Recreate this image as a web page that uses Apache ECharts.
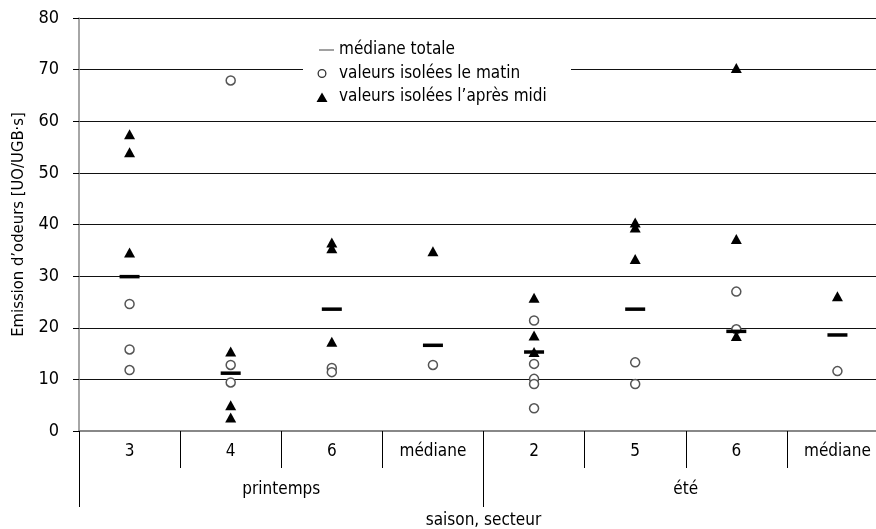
<!DOCTYPE html>
<html>
<head>
<meta charset="utf-8">
<script src="https://cdn.jsdelivr.net/npm/echarts@6/dist/echarts.min.js"></script>
<style>
html,body{margin:0;padding:0;background:#fff;}
#c{width:876px;height:529px;}
</style>
</head>
<body>
<div id="c"></div>
<script>
const sectors = ['3', '4', '6', 'médiane', '2', '5', '6', 'médiane'];
const seasons = ['printemps', 'été'];
const yTicks = [0, 10, 20, 30, 40, 50, 60, 70, 80];
const medianValues = [29.9, 11.2, 23.6, 16.6, 15.3, 23.6, 19.3, 18.6];
const morningValues = [
  [24.6, 15.8, 11.8],
  [67.9, 12.8, 9.4],
  [12.2, 11.4],
  [12.8],
  [21.4, 13.0, 10.1, 9.1, 4.4],
  [13.3, 9.1],
  [19.7, 27.0],
  [11.6]
];
const afternoonValues = [
  [57.5, 54.0, 34.6],
  [15.4, 5.0, 2.6],
  [36.5, 35.4, 17.3],
  [34.8],
  [25.8, 18.5, 15.3],
  [40.4, 39.4, 33.3],
  [70.3, 37.2, 18.4],
  [26.1]
];
const legendNames = ['médiane totale', 'valeurs isolées le matin', 'valeurs isolées l’après midi'];

const FONT = "'DejaVu Sans Condensed', 'DejaVu Sans', sans-serif";
const toPoints = arr => arr.flatMap((vals, i) => vals.map(v => [i, v]));
const corners = 'M0,0h0.01v0.01h-0.01z M19.99,11.99h0.01v0.01h-0.01z ';

const chart = echarts.init(document.getElementById('c'), null, {renderer: 'canvas'});
chart.setOption({
  animation: false,
  backgroundColor: '#fff',
  textStyle: {fontFamily: FONT, color: '#000'},
  grid: {left: 79, right: -12, top: 18, bottom: 98, containLabel: false, outerBoundsMode: 'none'},
  legend: {
    orient: 'vertical',
    left: 303,
    top: 32,
    padding: [8, 10, 8, 11],
    backgroundColor: '#fff',
    itemWidth: 20,
    itemHeight: 12,
    itemGap: 3.5,
    selectedMode: false,
    textStyle: {fontFamily: FONT, fontSize: 17, color: '#000', lineHeight: 20, width: 222},
    data: [
      {name: legendNames[0], icon: 'path://' + corners + 'M5,5.4h15v1.2h-15z', itemStyle: {color: '#444', borderWidth: 0}},
      {name: legendNames[1], icon: 'path://' + corners + 'M3.5,6a4.5,4.5 0 1,1 9,0a4.5,4.5 0 1,1 -9,0z M4.8,6a3.2,3.2 0 1,0 6.4,0a3.2,3.2 0 1,0 -6.4,0z', itemStyle: {color: '#333', borderWidth: 0}},
      {name: legendNames[2], icon: 'path://' + corners + 'M2.5,11L8,1.5L13.5,11z', itemStyle: {color: '#000', borderWidth: 0}}
    ]
  },
  xAxis: [
    {
      type: 'category',
      position: 'bottom',
      data: sectors,
      boundaryGap: true,
      axisLine: {show: true, lineStyle: {color: '#888', width: 2}},
      axisTick: {show: true, interval: 0, length: 37, lineStyle: {color: '#000', width: 1}},
      axisLabel: {interval: 0, margin: 12, fontSize: 17, color: '#000', fontFamily: FONT},
      splitLine: {show: false}
    },
    {
      type: 'category',
      position: 'bottom',
      data: seasons,
      boundaryGap: true,
      axisLine: {show: false},
      axisTick: {show: true, interval: 0, length: 76, lineStyle: {color: '#000', width: 1}},
      axisLabel: {interval: 0, margin: 50, fontSize: 17, color: '#000', fontFamily: FONT},
      splitLine: {show: false},
      name: 'saison, secteur',
      nameLocation: 'middle',
      nameGap: 81,
      nameTextStyle: {fontSize: 17, color: '#000', fontFamily: FONT}
    }
  ],
  yAxis: {
    type: 'value',
    min: yTicks[0],
    max: yTicks[yTicks.length - 1],
    interval: 10,
    name: 'Emission d’odeurs [UO/UGB·s]',
    nameLocation: 'middle',
    nameGap: 52,
    nameTextStyle: {fontSize: 16.5, color: '#000', fontFamily: FONT},
    axisLine: {show: true, lineStyle: {color: '#888', width: 1.5}},
    axisTick: {show: true, length: 6, lineStyle: {color: '#000', width: 1}},
    axisLabel: {margin: 20, fontSize: 18, color: '#000', fontFamily: FONT, padding: [5, 0, 0, 0]},
    splitLine: {show: true, lineStyle: {color: '#111', width: 1}}
  },
  series: [
    {
      name: legendNames[1],
      type: 'scatter',
      xAxisIndex: 0,
      symbol: 'circle',
      symbolSize: 9,
      itemStyle: {color: '#fff', borderColor: '#555', borderWidth: 1.5, opacity: 1},
      data: toPoints(morningValues),
      z: 3
    },
    {
      name: legendNames[2],
      type: 'scatter',
      xAxisIndex: 0,
      symbol: 'triangle',
      symbolSize: [11, 10],
      itemStyle: {color: '#000', opacity: 1},
      data: toPoints(afternoonValues),
      z: 4
    },
    {
      name: legendNames[0],
      type: 'scatter',
      xAxisIndex: 0,
      symbol: 'rect',
      symbolSize: [20, 3.5],
      itemStyle: {color: '#000', opacity: 1},
      data: medianValues.map((v, i) => [i, v]),
      z: 5
    }
  ]
});
</script>
</body>
</html>
